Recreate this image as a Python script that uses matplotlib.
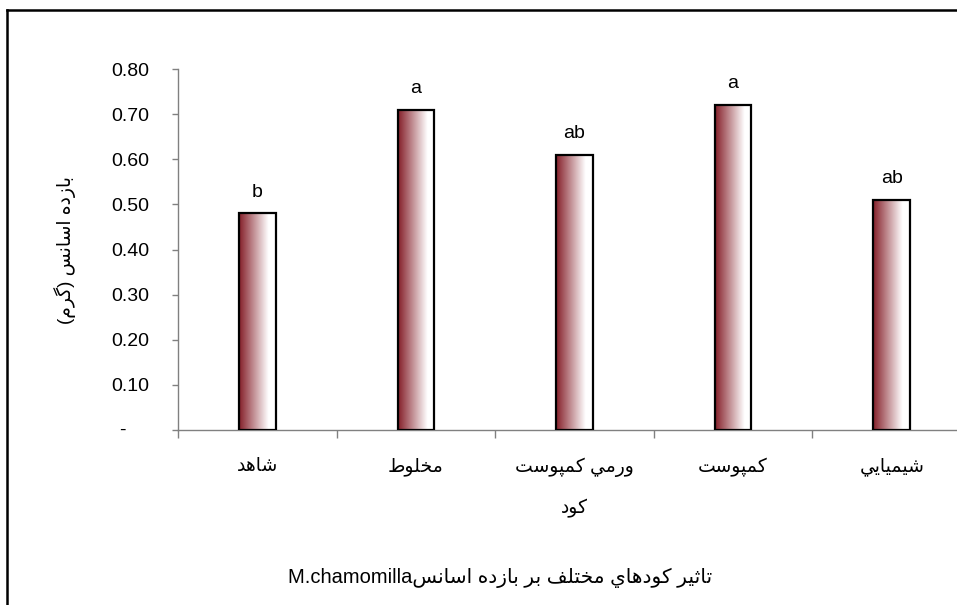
import matplotlib
matplotlib.use("Agg")
import matplotlib.pyplot as plt
import numpy as np
from matplotlib.lines import Line2D
import matplotlib.transforms as mtransforms

plt.rcParams['font.family'] = ['Liberation Sans', 'DejaVu Sans']

# data
categories = ["شاهد", "مخلوط", "ورمي كمپوست", "كمپوست", "شيميايي"]
values = [0.48, 0.71, 0.61, 0.72, 0.51]
letters = ["b", "a", "ab", "a", "ab"]
yticks = [0.0, 0.1, 0.2, 0.3, 0.4, 0.5, 0.6, 0.7, 0.8]
ylabel = "بازده اسانس (گرم)"
xlabel = "كود"
title_fa = "تاثير كودهاي مختلف بر بازده اسانس"
title_latin = "M.chamomilla"

# contextual forms: isolated, final, initial, medial
FORMS = {
    '\u0627': ('\ufe8d', '\ufe8e', None, None),
    '\u0628': ('\ufe8f', '\ufe90', '\ufe91', '\ufe92'),
    '\u062a': ('\ufe95', '\ufe96', '\ufe97', '\ufe98'),
    '\u062b': ('\ufe99', '\ufe9a', '\ufe9b', '\ufe9c'),
    '\u062e': ('\ufea5', '\ufea6', '\ufea7', '\ufea8'),
    '\u062f': ('\ufea9', '\ufeaa', None, None),
    '\u0631': ('\ufead', '\ufeae', None, None),
    '\u0632': ('\ufeaf', '\ufeb0', None, None),
    '\u0633': ('\ufeb1', '\ufeb2', '\ufeb3', '\ufeb4'),
    '\u0634': ('\ufeb5', '\ufeb6', '\ufeb7', '\ufeb8'),
    '\u0637': ('\ufec1', '\ufec2', '\ufec3', '\ufec4'),
    '\u0641': ('\ufed1', '\ufed2', '\ufed3', '\ufed4'),
    '\u0643': ('\ufed9', '\ufeda', '\ufedb', '\ufedc'),
    '\u0644': ('\ufedd', '\ufede', '\ufedf', '\ufee0'),
    '\u0645': ('\ufee1', '\ufee2', '\ufee3', '\ufee4'),
    '\u0646': ('\ufee5', '\ufee6', '\ufee7', '\ufee8'),
    '\u0647': ('\ufee9', '\ufeea', '\ufeeb', '\ufeec'),
    '\u0648': ('\ufeed', '\ufeee', None, None),
    '\u064a': ('\ufef1', '\ufef2', '\ufef3', '\ufef4'),
    '\u067e': ('\ufb56', '\ufb57', '\ufb58', '\ufb59'),
    '\u06af': ('\ufb92', '\ufb93', '\ufb94', '\ufb95'),
}


def rtl(text):
    # join letters into their contextual forms, then lay out right to left
    out = []
    for i, ch in enumerate(text):
        if ch not in FORMS:
            out.append(ch)
            continue
        prev = text[i - 1] if i > 0 else ''
        nxt = text[i + 1] if i + 1 < len(text) else ''
        dual = FORMS[ch][2] is not None
        joins_prev = prev in FORMS and FORMS[prev][2] is not None
        joins_next = dual and nxt in FORMS
        if joins_prev and joins_next:
            out.append(FORMS[ch][3])
        elif joins_prev:
            out.append(FORMS[ch][1])
        elif joins_next:
            out.append(FORMS[ch][2])
        else:
            out.append(FORMS[ch][0])
    swap = {'(': ')', ')': '('}
    return ''.join(swap.get(c, c) for c in reversed(out))


W, H = 957, 605
fig = plt.figure(figsize=(W / 100, H / 100), dpi=100)
fig.patch.set_facecolor('white')

# axes run past the right edge, as in the cropped reference
ax = fig.add_axes([178 / W, 1 - 430 / H, 793 / W, 361 / H])
x = np.arange(len(categories))
bars = ax.bar(x, values, width=0.23, facecolor='none', edgecolor='black',
              linewidth=1.6, zorder=3)

# dark red to white horizontal gradient inside every bar
grad = np.linspace(0, 1, 256)
ramp = np.clip(grad / 0.8, 0, 1)
c0 = np.array([0.52, 0.12, 0.16])
c1 = np.array([1.0, 1.0, 1.0])
img = (c0[None, :] * (1 - ramp[:, None]) + c1[None, :] * ramp[:, None])
img = img[None, :, :]
for b in bars:
    x0, y0 = b.get_x(), b.get_y()
    im = ax.imshow(img, extent=[x0, x0 + b.get_width(), y0, y0 + b.get_height()],
                   aspect='auto', zorder=2, interpolation='bilinear')
    im.set_clip_path(b)

for xi, v, lab in zip(x, values, letters):
    ax.annotate(lab, (xi, v), xytext=(0, 12), textcoords='offset points',
                ha='center', va='baseline', fontsize=14)

ax.set_xlim(-0.5, len(categories) - 0.5)
ax.set_ylim(0, 0.8)

for s in ['top', 'right']:
    ax.spines[s].set_visible(False)
for s in ['left', 'bottom']:
    ax.spines[s].set_color('#808080')
    ax.spines[s].set_linewidth(1.0)

ax.set_yticks(yticks)
ax.set_yticklabels([''] + [f"{t:.2f}" for t in yticks[1:]])
ax.tick_params(axis='y', direction='out', length=4.5, width=1, color='#808080',
               labelsize=14, pad=16)
# zero shown as a dash, as in the accounting number format
trans = mtransforms.blended_transform_factory(ax.transAxes, ax.transData)
ax.text(-56 / 793, 0, '-', transform=trans, ha='center', va='center',
        fontsize=14)

ax.set_xticks(np.arange(len(categories) + 1) - 0.5)
ax.set_xticklabels([])
ax.set_xticks(x, minor=True)
ax.set_xticklabels([rtl(c) for c in categories], minor=True)
ax.tick_params(axis='x', which='major', direction='out', length=6, width=1,
               color='#808080')
ax.tick_params(axis='x', which='minor', length=0, labelsize=13.5, pad=20)

ax.set_xlabel(rtl(xlabel), fontsize=13.5)
ax.xaxis.set_label_coords(0.5, -(508 - 430) / 361)
ax.xaxis.label.set_va('center')
ax.set_ylabel(rtl(ylabel), fontsize=13.5)
ax.yaxis.set_label_coords(-(178 - 65) / 793, 0.5)
ax.yaxis.label.set_va('center')

fig.text(500 / W, 1 - 578 / H, title_latin + rtl(title_fa), ha='center',
         va='center', fontsize=14.5)

# outer chart frame (left and top sides are inside the picture)
fig.add_artist(Line2D([7 / W, 7 / W], [-0.1, 1 - 10 / H], color='black',
                      linewidth=1.8, transform=fig.transFigure))
fig.add_artist(Line2D([7 / W, 1.1], [1 - 10 / H, 1 - 10 / H], color='black',
                      linewidth=1.8, transform=fig.transFigure))

fig.savefig('out.png', dpi=100)
